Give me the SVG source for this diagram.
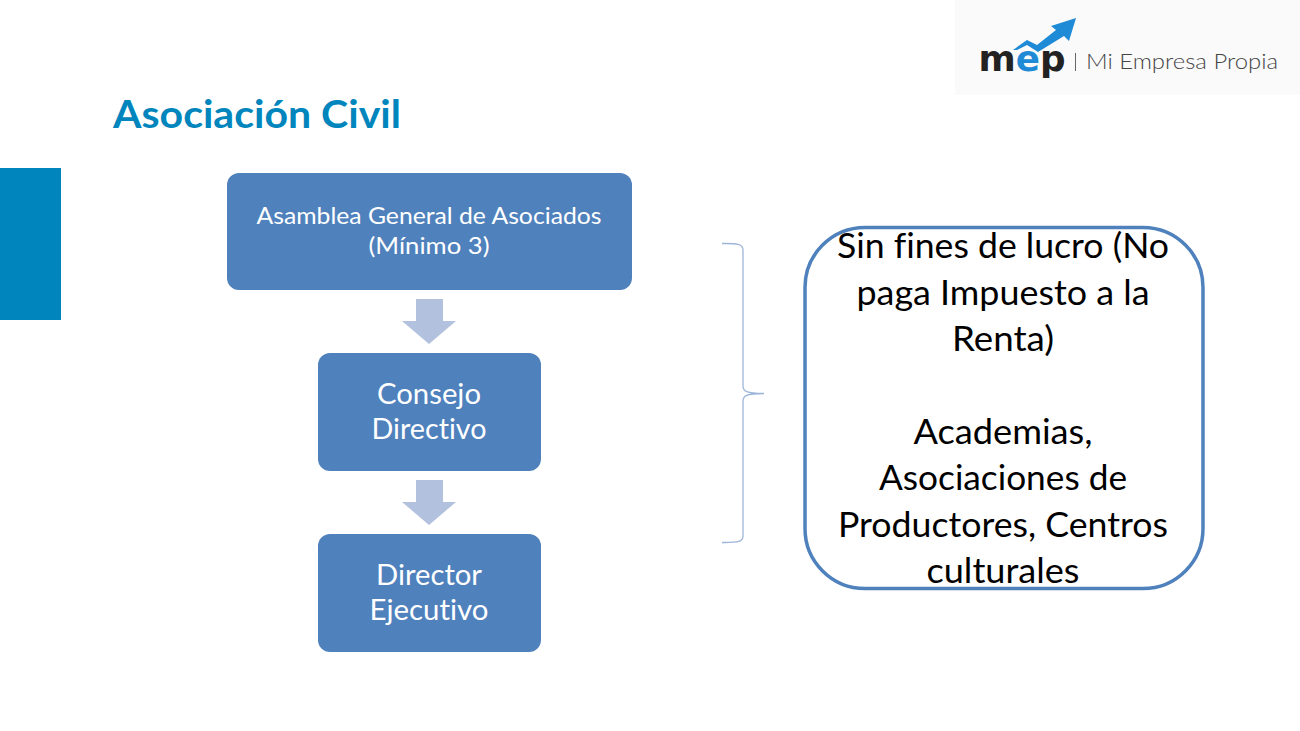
<svg xmlns="http://www.w3.org/2000/svg" width="1300" height="731" viewBox="0 0 1300 731">
<defs><style>
text{font-family:Lato,"Open Sans","Noto Sans",sans-serif;text-anchor:middle;font-variant-ligatures:none}
.box{fill:#4f81bd}
.w{fill:#fff}
.arrow{fill:#b2c1dd}
.k{fill:#000;font-size:35px}
</style></defs>
<rect width="1300" height="731" fill="#fff"/>
<rect x="0" y="168" width="61" height="152" fill="#0085bc"/>
<text x="257" y="128" font-size="39" font-weight="700" fill="#0085bc" textLength="288" lengthAdjust="spacingAndGlyphs">Asociación Civil</text>
<g id="logo">
<rect x="955" y="0" width="345" height="95" fill="#fafafa"/>
<path d="M1013 50 L1027 40 L1037 45 L1056 30 L1051 26 L1076 18 L1069 41 L1064 36 L1038 52 L1027 45 L1017 50Z" fill="#1f8ad6"/>
<text x="1022" y="71" font-family="DejaVu Sans" font-size="36" font-weight="700" fill="#222" textLength="87" lengthAdjust="spacingAndGlyphs" style="font-family:'DejaVu Sans',sans-serif">m<tspan fill="#1f8ad6">e</tspan>p</text>
<rect x="1075" y="53" width="1" height="18" fill="#666"/>
<text x="1182" y="69" font-size="22" font-weight="300" fill="#444" textLength="192" lengthAdjust="spacingAndGlyphs">Mi Empresa Propia</text>
</g>
<g id="connectors">
<path class="arrow" d="M416 299H443V321H456L429 344L402 321H416Z"/>
<path class="arrow" d="M416 480H443V502H456L429 525L402 502H416Z"/>
<path d="M722 243.500C735 243.500 743 243 743 250V386C743 391 746 393.500 764 393.500C746 393.500 743 396 743 401V536C743 543 735 542.500 722 542.500" fill="none" stroke="#9db5d9" stroke-width="1.300"/>
</g>
<g id="n1">
<rect class="box" x="227" y="173" width="405" height="117" rx="12"/>
<text class="w" x="429" y="224" font-size="24" textLength="345" lengthAdjust="spacingAndGlyphs">Asamblea General de Asociados</text>
<text class="w" x="429" y="254" font-size="24" textLength="121" lengthAdjust="spacingAndGlyphs">(Mínimo 3)</text>
</g>
<g id="n2">
<rect class="box" x="318" y="353" width="223" height="118" rx="12"/>
<text class="w" x="429" y="404" font-size="28" textLength="104" lengthAdjust="spacingAndGlyphs">Consejo</text>
<text class="w" x="429" y="439" font-size="28" textLength="115" lengthAdjust="spacingAndGlyphs">Directivo</text>
</g>
<g id="n3">
<rect class="box" x="318" y="534" width="223" height="118" rx="12"/>
<text class="w" x="429" y="585" font-size="28" textLength="106" lengthAdjust="spacingAndGlyphs">Director</text>
<text class="w" x="429" y="620" font-size="28" textLength="119" lengthAdjust="spacingAndGlyphs">Ejecutivo</text>
</g>
<g id="n4">
<rect x="805" y="227.500" width="398" height="361" rx="60" fill="#fff" stroke="#4f81bd" stroke-width="3.500"/>
<text class="k" x="1003" y="258" textLength="332" lengthAdjust="spacingAndGlyphs">Sin fines de lucro (No</text>
<text class="k" x="1003" y="305" textLength="293" lengthAdjust="spacingAndGlyphs">paga Impuesto a la</text>
<text class="k" x="1003" y="351" textLength="102" lengthAdjust="spacingAndGlyphs">Renta)</text>
<text class="k" x="1003" y="444" textLength="179" lengthAdjust="spacingAndGlyphs">Academias,</text>
<text class="k" x="1003" y="490" textLength="248" lengthAdjust="spacingAndGlyphs">Asociaciones de</text>
<text class="k" x="1003" y="537" textLength="330" lengthAdjust="spacingAndGlyphs">Productores, Centros</text>
<text class="k" x="1003" y="583" textLength="153" lengthAdjust="spacingAndGlyphs">culturales</text>
</g>
</svg>
